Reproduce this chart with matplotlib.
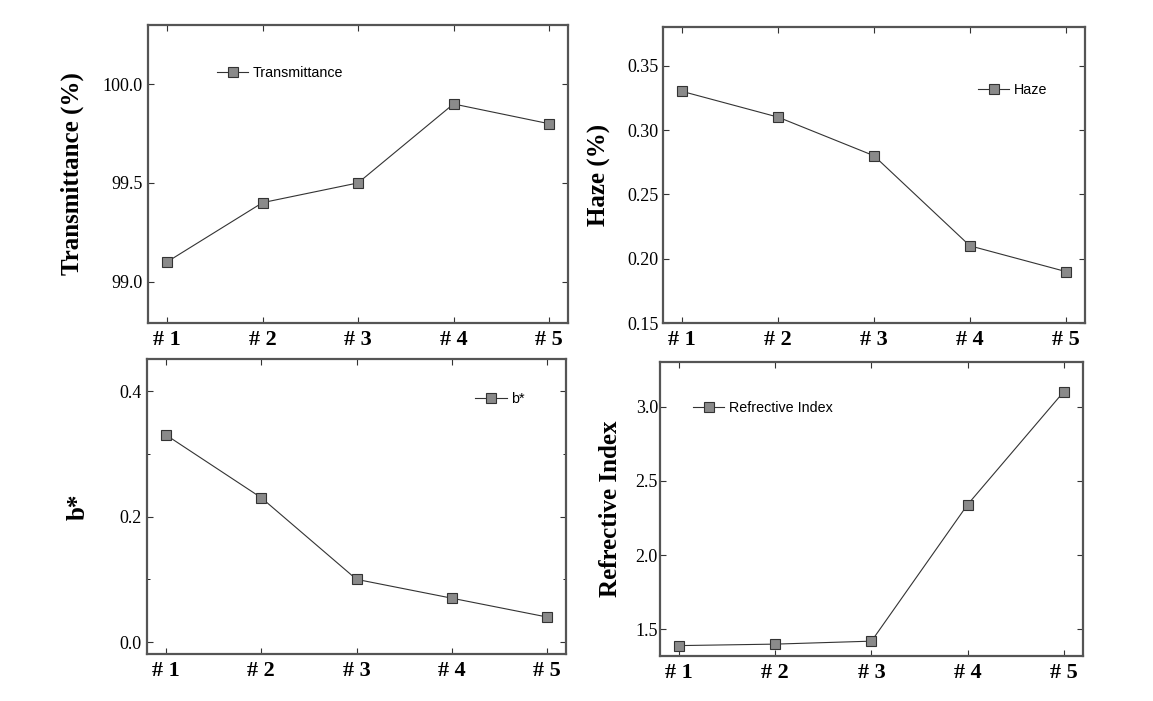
import matplotlib
matplotlib.use("Agg")
import matplotlib.pyplot as plt
from matplotlib.ticker import MultipleLocator, FormatStrFormatter

# sample labels and measured values
samples = ["# 1", "# 2", "# 3", "# 4", "# 5"]
transmittance = [99.1, 99.4, 99.5, 99.9, 99.8]
haze = [0.33, 0.31, 0.28, 0.21, 0.19]
b_star = [0.33, 0.23, 0.10, 0.07, 0.04]
refractive_index = [1.39, 1.40, 1.42, 2.34, 3.10]

x = list(range(1, len(samples) + 1))

serif = "Liberation Serif"
sans = "Liberation Sans"

fig = plt.figure(figsize=(11.53, 7.01), dpi=100)

# (values, ylabel, legend label, axes rect, ylim, major step, minor step,
#  legend anchor, ylabel x, ytick pad)
panels = [
    (transmittance, "Transmittance (%)", "Transmittance",
     [0.1284, 0.5392, 0.3643, 0.4251], (98.79, 100.3), 0.5, None,
     (0.164, 0.839), -0.152, 4),
    (haze, "Haze (%)", "Haze",
     [0.5750, 0.5392, 0.3660, 0.4222], (0.15, 0.38), 0.05, None,
     (0.746, 0.787), -0.123, 3),
    (b_star, "b*", "b*",
     [0.1275, 0.0670, 0.3634, 0.4208], (-0.019, 0.451), 0.2, 0.1,
     (0.783, 0.864), -0.136, 4),
    (refractive_index, "Refrective Index", "Refrective Index",
     [0.5724, 0.0642, 0.3669, 0.4194], (1.32, 3.30), 0.5, None,
     (0.078, 0.844), -0.090, 1.5),
]

for vals, ylab, leg, rect, ylim, step, minor, legpos, labx, pad in panels:
    ax = fig.add_axes(rect)
    ax.plot(x, vals, color="#333333", linewidth=0.8, marker="s", markersize=6.5,
            markerfacecolor="#8a8a8a", markeredgecolor="#333333",
            markeredgewidth=0.8, label=leg)
    ax.set_xlim(0.8, 5.2)
    ax.set_ylim(*ylim)
    ax.set_xticks(x)
    ax.set_xticklabels(samples, fontfamily=serif, fontweight="bold", fontsize=16)
    ax.yaxis.set_major_locator(MultipleLocator(step))
    if minor:
        ax.yaxis.set_minor_locator(MultipleLocator(minor))
    fmt = "%.2f" if step < 0.1 else "%.1f"
    ax.yaxis.set_major_formatter(FormatStrFormatter(fmt))
    for t in ax.get_yticklabels():
        t.set_fontfamily(serif)
        t.set_fontsize(13)
    ax.tick_params(direction="in", top=True, right=True, length=4, width=0.8,
                   colors="#333333", labelcolor="black")
    ax.tick_params(which="minor", direction="in", right=True, length=2.5)
    ax.tick_params(axis="x", pad=5)
    ax.tick_params(axis="y", pad=pad)
    ax.set_ylabel(ylab, fontfamily=serif, fontweight="bold", fontsize=18)
    ax.yaxis.set_label_coords(labx, 0.5)
    for s in ax.spines.values():
        s.set_linewidth(1.6)
        s.set_color("#555555")
    ax.legend(loc="center left", bbox_to_anchor=legpos, frameon=False,
              prop={"family": sans, "size": 10.3}, handlelength=2.2,
              handletextpad=0.3, borderpad=0, borderaxespad=0)

fig.savefig("out.png", dpi=100)
